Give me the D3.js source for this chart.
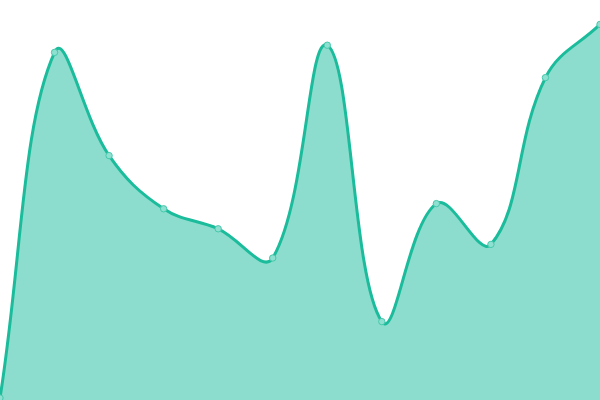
<!DOCTYPE html>
<html>
<head>
<meta charset="utf-8">
<script src="https://cdn.jsdelivr.net/npm/d3@7"></script>
<style>
  body { margin: 0; background: #fff; }
  svg { display: block; }
</style>
</head>
<body>
<div id="chart"></div>
<script>
// Data
const labels = ["1", "2", "3", "4", "5", "6", "7", "8", "9", "10", "11", "12"];
const values = [0.5, 86.9, 61.1, 47.8, 42.8, 35.5, 88.7, 19.6, 49.1, 38.9, 80.6, 93.9];
const yDomain = [0, 100];

// Dimensions
const width = 600, height = 400;

// Scales
const xScale = d3.scalePoint()
  .domain(labels)
  .range([0, width]);

const yScale = d3.scaleLinear()
  .domain(yDomain)
  .range([height, 0]);

// Spline like a bezier with tension 0.4, control points kept inside the plot
function splineCurve(tension) {
  function Spline(context) { this._context = context; }
  Spline.prototype = {
    areaStart() { this._line = 0; },
    areaEnd() { this._line = NaN; },
    lineStart() { this._pts = []; },
    point(x, y) { this._pts.push([+x, +y]); },
    lineEnd() {
      const p = this._pts, c = this._context, n = p.length;
      if (n) {
        if (this._line) c.lineTo(p[0][0], p[0][1]);
        else c.moveTo(p[0][0], p[0][1]);
        const cps = p.map((cur, i) => {
          const prev = p[i - 1] || cur, next = p[i + 1] || cur;
          const d01 = Math.hypot(cur[0] - prev[0], cur[1] - prev[1]);
          const d12 = Math.hypot(next[0] - cur[0], next[1] - cur[1]);
          let s01 = d01 / (d01 + d12), s12 = d12 / (d01 + d12);
          if (isNaN(s01)) s01 = 0;
          if (isNaN(s12)) s12 = 0;
          const fa = tension * s01, fb = tension * s12;
          const dx = next[0] - prev[0], dy = next[1] - prev[1];
          const clampX = v => Math.max(0, Math.min(width, v));
          const clampY = v => Math.max(0, Math.min(height, v));
          return {
            before: [clampX(cur[0] - fa * dx), clampY(cur[1] - fa * dy)],
            after: [clampX(cur[0] + fb * dx), clampY(cur[1] + fb * dy)]
          };
        });
        for (let i = 1; i < n; i++) {
          c.bezierCurveTo(cps[i - 1].after[0], cps[i - 1].after[1],
                          cps[i].before[0], cps[i].before[1],
                          p[i][0], p[i][1]);
        }
      }
      if (this._line || (this._line !== 0 && n === 1)) c.closePath();
      this._line = 1 - this._line;
    }
  };
  return context => new Spline(context);
}

const curve = splineCurve(0.4);

// Generators
const areaGenerator = d3.area()
  .x((d, i) => xScale(labels[i]))
  .y0(yScale(yDomain[0]))
  .y1(d => yScale(d))
  .curve(curve);

const lineGenerator = d3.line()
  .x((d, i) => xScale(labels[i]))
  .y(d => yScale(d))
  .curve(curve);

// Elements
const svg = d3.select("#chart").append("svg")
  .attr("width", width)
  .attr("height", height);

svg.append("path")
  .datum(values)
  .attr("fill", "#1abc9c")
  .attr("fill-opacity", 0.5)
  .attr("d", areaGenerator);

svg.append("path")
  .datum(values)
  .attr("fill", "none")
  .attr("stroke", "#1abc9c")
  .attr("stroke-width", 3)
  .attr("d", lineGenerator);

svg.selectAll(".dot")
  .data(values)
  .enter().append("circle")
  .attr("class", "dot")
  .attr("cx", (d, i) => xScale(labels[i]))
  .attr("cy", d => yScale(d))
  .attr("r", 3.2)
  .attr("fill", "#8ee0d0")
  .attr("stroke", "#46c8ac")
  .attr("stroke-width", 1);
</script>
</body>
</html>
